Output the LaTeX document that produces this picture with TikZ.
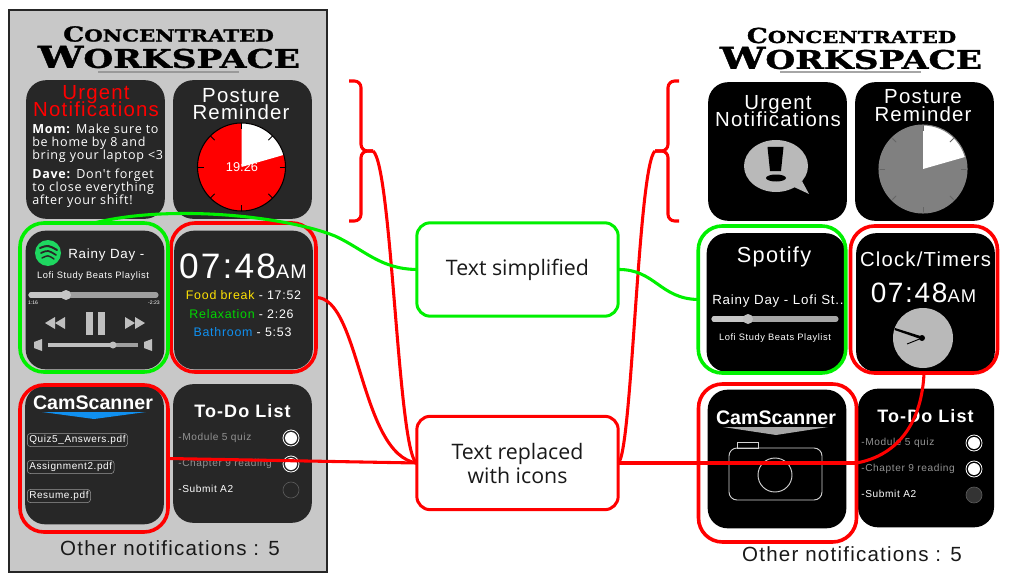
\documentclass[tikz,border=0pt]{standalone}
\usepackage{graphicx}
\usepackage{fontspec}
\setmainfont{Liberation Sans}
\newfontfamily\trackfont[LetterSpace=6]{Liberation Sans}
\newfontfamily\notefont[LetterSpace=6]{Open Sans}
\newfontfamily\boxfont{Open Sans}
\newfontfamily\capfont[BoldFeatures={FakeBold=1.2}]{DejaVu Serif}
\usetikzlibrary{
	positioning,
	arrows.meta
}
\lineskiplimit=-10pt
\definecolor{paneldark}{HTML}{272727}
\definecolor{panelgray}{HTML}{C8C8C8}
\definecolor{markgreen}{HTML}{00F000}
\definecolor{markred}{HTML}{FF0000}
\definecolor{skyblue}{HTML}{1090F0}
\definecolor{spotgreen}{HTML}{1ED760}

\newcommand{\topword}{\capfont\bfseries{\fontsize{20}{20}\selectfont C}{\fontsize{16}{16}\selectfont ONCENTRATED}}
\newcommand{\lowword}{\capfont\bfseries{\fontsize{20}{20}\selectfont W}{\fontsize{17}{17}\selectfont ORKSPACE}}
\newcommand{\amtext}[2]{#1{\fontsize{#2}{#2}\selectfont AM}}

\newcommand{\dial}[5]{
	\fill[#3] (#1,#2) circle[radius=44];
	\fill[white] (#1,#2) -- ++(0,-44) arc[start angle=-90,end angle=-16,radius=44] -- cycle;
	\foreach \ang in {0,45,...,315}
		\draw[#5,line width=0.6pt,shift={(#1,#2)}] (\ang:38) -- (\ang:44);
	\draw[#4,line width=0.8pt] (#1,#2) circle[radius=44];
}

\newcommand{\todolines}[2]{
	\node[cardhead,font=\bfseries\trackfont\fontsize{13.5}{13.5}\selectfont] (#1head) at (242.5,411) {To-Do List};
	\node[todoline,text=gray!85] (#1one) at (178,438) {-Module 5 quiz};
	\node[todoline,text=gray!85] (#1two) at (178,464) {-Chapter 9 reading};
	\node[todoline,text=white] (#1three) at (178,489) {-Submit A2};
	\foreach \yy in {438,464}{
		\draw[white,line width=0.6pt] (291,\yy) circle[radius=8];
		\fill[white] (291,\yy) circle[radius=6];
	}
	\draw[gray!70!black,line width=0.5pt,fill=#2] (291,490) circle[radius=8];
}

\begin{document}
\begin{tikzpicture}[
			x=0.75pt,y=-0.75pt,
			cardbase/.style={
				rounded corners=15pt,
				minimum width=104pt,
				minimum height=104pt,
				inner sep=0pt,
				outer sep=0pt
			},
			carddark/.style={cardbase,fill=paneldark},
			cardblack/.style={cardbase,fill=black},
			redframe/.style={
				draw=markred,
				line width=2.7pt,
				rounded corners=18pt,
				inner sep=0pt,
				outer sep=0pt
			},
			greenframe/.style={redframe,draw=markgreen},
			notebox/.style={
				draw,
				line width=2.25pt,
				rounded corners=10pt,
				minimum width=151pt,
				minimum height=70pt,
				align=center,
				inner sep=0pt,
				outer sep=0pt,
				font=\boxfont\fontsize{16}{18}\selectfont,
				text=black!90
			},
			cardhead/.style={
				font=\trackfont\fontsize{15.3}{12.9}\selectfont,
				text=white,
				align=center,
				inner sep=0pt
			},
			smalltext/.style={
				font=\trackfont\fontsize{7}{8}\selectfont,
				text=white,
				inner sep=0pt
			},
			songtext/.style={
				font=\trackfont\fontsize{10}{11}\selectfont,
				text=white,
				inner sep=0pt
			},
			timetext/.style={
				font=\trackfont\fontsize{9.3}{10}\selectfont,
				text=white,
				inner sep=0pt
			},
			filepill/.style={
				draw=gray!80,
				line width=0.4pt,
				rounded corners=2.5pt,
				anchor=west,
				inner xsep=1.5pt,
				inner ysep=1.5pt,
				font=\trackfont\fontsize{7.5}{8}\selectfont,
				text=white
			},
			todoline/.style={
				anchor=west,
				inner sep=0pt,
				font=\trackfont\fontsize{7.6}{8}\selectfont
			},
			countline/.style={
				font=\trackfont\fontsize{15.4}{16}\selectfont,
				text=black!90,
				inner sep=0pt
			},
			redline/.style={draw=markred,line width=2.3pt},
			greenline/.style={draw=markgreen,line width=2.3pt}
			]
			
			\useasboundingbox (0,0) rectangle (1023,588);
			\fill[white] (0,0) rectangle (1023,588);
			
			\node[draw=black!85,line width=1.1pt,fill=panelgray,minimum width=238.5pt,minimum height=421.5pt,inner sep=0pt] (phone) at (168,291) {};
			
			\node[inner sep=0pt] (toptitle) at (168.5,34)
			{\resizebox{158pt}{11.5pt}{\topword}};
			\node[inner sep=0pt] (lowtitle) at (169,57)
			{\resizebox{196.5pt}{16.5pt}{\lowword}};
			\draw[gray!80,line width=0.8pt] (98,72) -- (239,72);
			
			\node[inner sep=0pt] (toptitler) at (851.5,35.5)
			{\resizebox{157pt}{11.5pt}{\topword}};
			\node[inner sep=0pt] (lowtitler) at (851,58)
			{\resizebox{196.5pt}{16.5pt}{\lowword}};
			\draw[gray!70,line width=1.6pt] (780,72) -- (921,72);
			
			\node[carddark] (urgl) at (95.5,149.5) {};
			\node[carddark] (postl) at (242.5,149.5) {};
			\node[carddark] (spotl) at (95,300) {};
			\node[carddark] (clockl) at (243.5,300) {};
			\node[carddark] (caml) at (94.5,455) {};
			\node[carddark] (todol) at (242.5,453.5) {};
			
			\node[cardblack] (urgr) at (777.5,151.5) {};
			\node[cardblack] (postr) at (924.5,151.5) {};
			\node[cardblack] (spotr) at (776,302.5) {};
			\node[cardblack] (clockr) at (925.5,302.5) {};
			\node[cardblack] (camr) at (777,459) {};
			\node[cardblack,minimum width=102pt] (todor) at (926,458) {};
			
			\node[cardhead,text=markred] (urgheadl) at (96,101) {Urgent\\Notifications};
			\node[anchor=north west,inner sep=0pt,align=left,text=white,font=\notefont\fontsize{9.4}{9.75}\selectfont] (momnote) at (32,124)
			{\textbf{Mom:} Make sure to\\be home by 8 and\\bring your laptop <3};
			\node[anchor=north west,inner sep=0pt,align=left,text=white,font=\notefont\fontsize{9.4}{9.75}\selectfont] (davenote) at (32,169)
			{\textbf{Dave:} Don't forget\\to close everything\\after your shift!};
			
			\node[cardhead] (postheadl) at (241,104) {Posture\\Reminder};
			\dial{241.5}{167}{markred}{black}{black}
			\node[inner sep=0pt,text=white,font=\fontsize{9.6}{10}\selectfont] (timerl) at (242,167.5) {19:26};
			
			\fill[spotgreen] (48,253) circle[radius=13];
			\draw[paneldark,line width=1.5pt,line cap=round] (40,248) .. controls (48,245) .. (57,250);
			\draw[paneldark,line width=1.3pt,line cap=round] (41,253) .. controls (48,250) .. (56,255);
			\draw[paneldark,line width=1.1pt,line cap=round] (42,258) .. controls (48,255) .. (54,259);
			\node[songtext,anchor=west] (songl) at (68,255) {Rainy Day -};
			\node[smalltext] (listl) at (93,276) {Lofi Study Beats Playlist};
			\draw[gray!75,line width=3.8pt,line cap=round] (31,295) -- (156,295);
			\draw[gray!45,line width=3.8pt,line cap=round] (31,295) -- (66,295);
			\fill[gray!45] (66,295) circle[radius=5];
			\node[inner sep=0pt,text=white,font=\fontsize{3.8}{4}\selectfont] (elapsed) at (33,303) {1:16};
			\node[inner sep=0pt,text=white,font=\fontsize{3.8}{4}\selectfont] (remain) at (154,303) {-2:23};
			\fill[gray!50] (45,323) -- (55,317) -- (55,329) -- cycle;
			\fill[gray!50] (55,323) -- (65,317) -- (65,329) -- cycle;
			\fill[gray!50] (86,312) rectangle (93,335);
			\fill[gray!50] (98,312) rectangle (105,335);
			\fill[gray!50] (125,317) -- (135,323) -- (125,329) -- cycle;
			\fill[gray!50] (135,317) -- (145,323) -- (135,329) -- cycle;
			\fill[gray!50] (34,342) -- (42,339) -- (42,351) -- (34,348) -- cycle;
			\fill[gray!50] (144,342) -- (152,339) -- (152,351) -- (144,348) -- cycle;
			\draw[gray!75,line width=2.5pt] (48,345) -- (138,345);
			\draw[gray!50,line width=2.5pt] (48,345) -- (113,345);
			\fill[gray!50] (113,345) circle[radius=3.5];
			
			\node[inner sep=0pt,text=white,font=\trackfont\fontsize{26.5}{27}\selectfont] (timel) at (243,266.5) {\amtext{07:48}{14.8}};
			\node[timetext] (foodl) at (243.5,295) {\textcolor{yellow!85!orange}{Food break} - 17:52};
			\node[timetext] (relaxl) at (241.5,314) {\textcolor{markgreen!90!black}{Relaxation} - 2:26};
			\node[timetext] (bathl) at (242.5,332) {\textcolor{skyblue}{Bathroom} - 5:53};
			
			\node[inner sep=0pt,text=white,font=\bfseries\fontsize{14.7}{15}\selectfont] (scanl) at (93,403) {CamScanner};
			\fill[skyblue] (42,412) -- (146,412) -- (94,419) -- cycle;
			\node[filepill] (quizfile) at (27,440) {Quiz5\_Answers.pdf};
			\node[filepill] (assignfile) at (27,467) {Assignment2.pdf};
			\node[filepill] (resumefile) at (27,496) {Resume.pdf};
			
			\todolines{todol}{paneldark}
			
			\node[countline] (countl) at (170,548) {Other notifications : 5};
			
			\node[cardhead] (urgheadr) at (778,111) {Urgent\\Notifications};
			\fill[gray!55] (776,166) ellipse[x radius=32,y radius=26];
			\fill[gray!55] (794,187) -- (809,194) -- (802,181) -- cycle;
			\fill[black] (767.5,147) -- (783.5,147) -- (781,171) -- (770,171) -- cycle;
			\fill[black] (776,178) ellipse[x radius=10,y radius=3.5];
			
			\node[cardhead] (postheadr) at (923,105.5) {Posture\\Reminder};
			\dial{923}{169}{gray}{gray}{black!60}
			
			\node[cardhead,font=\trackfont\fontsize{16.3}{17}\selectfont] (spothead) at (774,257) {Spotify};
			\node[songtext] (songr) at (778,301) {Rainy Day - Lofi St..};
			\draw[gray!70,line width=3.8pt,line cap=round] (714,319) -- (836,319);
			\draw[gray!45,line width=3.8pt,line cap=round] (714,319) -- (748,319);
			\fill[gray!50] (748,319) circle[radius=5];
			\node[smalltext] (listr) at (775,338) {Lofi Study Beats Playlist};
			
			\node[cardhead,font=\trackfont\fontsize{15.2}{16}\selectfont] (clockhead) at (925.5,259) {Clock/Timers};
			\node[inner sep=0pt,text=white,font=\trackfont\fontsize{21}{21}\selectfont] (timer) at (923.5,293) {\amtext{07:48}{13.8}};
			\fill[gray!55] (923,338) circle[radius=30];
			\fill[black] (922,338) circle[radius=3];
			\fill[black] (895,328) -- (922,336.5) -- (922,339.5) -- (894.5,330) -- cycle;
			\draw[black,line width=0.7pt] (922,338) -- (907,344);
			
			\node[inner sep=0pt,text=white,font=\bfseries\fontsize{14.7}{15}\selectfont] (scanr) at (776,418) {CamScanner};
			\fill[gray!70] (723,427) -- (828,427) -- (776,435) -- cycle;
			\draw[gray!35,line width=0.7pt,rounded corners=6pt] (729,448) rectangle (822,500);
			\draw[gray!35,line width=0.7pt] (737,448) rectangle (758,442);
			\draw[gray!35,line width=0.7pt] (775,475) circle[radius=17];
			
			\begin{scope}[shift={(683,5)}]
				\todolines{todor}{black!80}
			\end{scope}
			
			\node[countline] (countr) at (852,554) {Other notifications : 5};
			
			\node[redframe,minimum width=108.75pt,minimum height=111.75pt] (clockframel) at (243.5,297.5) {};
			\node[greenframe,minimum width=111pt,minimum height=111.75pt] (spotframel) at (94,297.5) {};
			\node[redframe,minimum width=111pt,minimum height=110.25pt] (camframel) at (94,458.5) {};
			\node[greenframe,minimum width=110.6pt,minimum height=110.25pt] (spotframer) at (772,299.5) {};
			\node[redframe,minimum width=110.25pt,minimum height=110.25pt] (clockframer) at (924,299.5) {};
			\node[redframe,minimum width=118.5pt,minimum height=118.5pt] (camframer) at (777.5,463) {};
			
			\node[notebox,draw=markgreen] (simple) at (517.5,269.5) {Text simplified};
			\node[notebox,draw=markred] (replace) at (517.5,463) {Text replaced\\with icons};
			
			\coordinate (bracel) at (373,151);
			\coordinate (bracer) at (655,151);
			
			\draw[redline,rounded corners=5pt] (349,81) -- (361,81) -- (361,151) -- (bracel);
			\draw[redline,rounded corners=5pt] (349,221) -- (361,221) -- (361,151) -- (bracel);
			\draw[redline,rounded corners=5pt] (679,81) -- (668,81) -- (668,151) -- (bracer);
			\draw[redline,rounded corners=5pt] (679,221) -- (668,221) -- (668,151) -- (bracer);
			
			\draw[redline] (bracel) .. controls (392,165) and (398,455) .. (replace.west);
			\draw[redline] (bracer) .. controls (638,165) and (632,455) .. (replace.east);
			\draw[redline] (clockframel.east) .. controls (360,297) and (360,455) .. (replace.west);
			\draw[redline] (camframel.east) -- (replace.west);
			\draw[redline] (replace.east) -- (camframer.east);
			\draw[redline] (clockframer.south) .. controls (922,420) and (900,455) .. (camframer.east);
			
			\draw[greenline] (simple.west) .. controls (380,269) and (365,250) .. (335,236) .. controls (285,216) and (170,204) .. (spotframel.north);
			\draw[greenline] (simple.east) .. controls (655,269) and (660,299) .. (spotframer.west);
			
		\end{tikzpicture}
\end{document}
